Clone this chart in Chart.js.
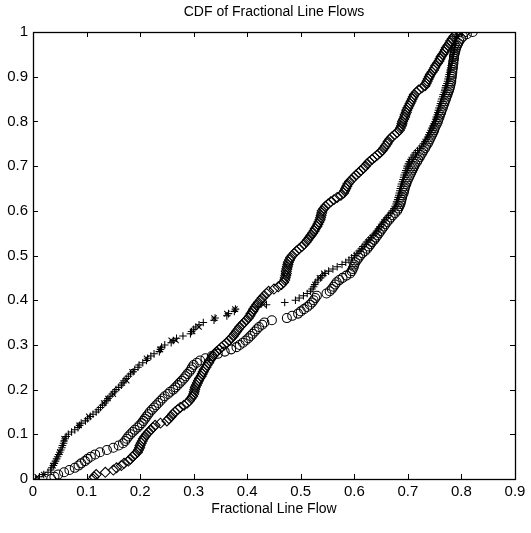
<!DOCTYPE html>
<html>
<head>
<meta charset="utf-8">
<script src="https://cdn.jsdelivr.net/npm/chart.js@4.4.1/dist/chart.umd.min.js"></script>
<style>
  html, body { margin: 0; padding: 0; background: #fff; }
  #wrap { width: 531px; height: 533px; }
</style>
</head>
<body>
<div id="wrap"><canvas id="cdfChart" width="531" height="533"></canvas></div>
<script>
// y levels of the CDF (shared by the three curves), step 0.005
const cdfLevels = [
  0.000, 0.005, 0.010, 0.015, 0.020, 0.025, 0.030, 0.035, 0.040, 0.045,
  0.050, 0.055, 0.060, 0.065, 0.070, 0.075, 0.080, 0.085, 0.090, 0.095,
  0.100, 0.105, 0.110, 0.115, 0.120, 0.125, 0.130, 0.135, 0.140, 0.145,
  0.150, 0.155, 0.160, 0.165, 0.170, 0.175, 0.180, 0.185, 0.190, 0.195,
  0.200, 0.205, 0.210, 0.215, 0.220, 0.225, 0.230, 0.235, 0.240, 0.245,
  0.250, 0.255, 0.260, 0.265, 0.270, 0.275, 0.280, 0.285, 0.290, 0.295,
  0.300, 0.305, 0.310, 0.315, 0.320, 0.325, 0.330, 0.335, 0.340, 0.345,
  0.350, 0.355, 0.360, 0.365, 0.370, 0.375, 0.380, 0.385, 0.390, 0.395,
  0.400, 0.405, 0.410, 0.415, 0.420, 0.425, 0.430, 0.435, 0.440, 0.445,
  0.450, 0.455, 0.460, 0.465, 0.470, 0.475, 0.480, 0.485, 0.490, 0.495,
  0.500, 0.505, 0.510, 0.515, 0.520, 0.525, 0.530, 0.535, 0.540, 0.545,
  0.550, 0.555, 0.560, 0.565, 0.570, 0.575, 0.580, 0.585, 0.590, 0.595,
  0.600, 0.605, 0.610, 0.615, 0.620, 0.625, 0.630, 0.635, 0.640, 0.645,
  0.650, 0.655, 0.660, 0.665, 0.670, 0.675, 0.680, 0.685, 0.690, 0.695,
  0.700, 0.705, 0.710, 0.715, 0.720, 0.725, 0.730, 0.735, 0.740, 0.745,
  0.750, 0.755, 0.760, 0.765, 0.770, 0.775, 0.780, 0.785, 0.790, 0.795,
  0.800, 0.805, 0.810, 0.815, 0.820, 0.825, 0.830, 0.835, 0.840, 0.845,
  0.850, 0.855, 0.860, 0.865, 0.870, 0.875, 0.880, 0.885, 0.890, 0.895,
  0.900, 0.905, 0.910, 0.915, 0.920, 0.925, 0.930, 0.935, 0.940, 0.945,
  0.950, 0.955, 0.960, 0.965, 0.970, 0.975, 0.980, 0.985, 0.990, 0.995,
  1.000
];

// '+' curve : line flow at each level
const plusFlow = [
  0.005, 0.012, 0.020, 0.028, 0.033, 0.035, 0.038, 0.040, 0.042, 0.044,
  0.046, 0.048, 0.050, 0.052, 0.054, 0.055, 0.057, 0.058, 0.060, 0.062,
  0.066, 0.072, 0.078, 0.084, 0.087, 0.090, 0.098, 0.102, 0.107, 0.112,
  0.118, 0.122, 0.126, 0.130, 0.134, 0.137, 0.140, 0.144, 0.148, 0.152,
  0.155, 0.160, 0.165, 0.168, 0.170, 0.174, 0.178, 0.182, 0.187, 0.190,
  0.196, 0.198, 0.205, 0.212, 0.214, 0.220, 0.226, 0.236, 0.238, 0.240,
  0.246, 0.258, 0.262, 0.268, 0.280, 0.294, 0.296, 0.300, 0.304, 0.310,
  0.318, 0.338, 0.340, 0.362, 0.365, 0.376, 0.378, 0.420, 0.436, 0.470,
  0.490, 0.497, 0.505, 0.512, 0.518, 0.521, 0.524, 0.526, 0.528, 0.532,
  0.537, 0.540, 0.545, 0.552, 0.560, 0.568, 0.577, 0.584, 0.590, 0.595,
  0.600, 0.605, 0.609, 0.613, 0.616, 0.620, 0.623, 0.627, 0.631, 0.635,
  0.639, 0.642, 0.645, 0.648, 0.651, 0.654, 0.657, 0.661, 0.664, 0.668,
  0.671, 0.674, 0.676, 0.678, 0.679, 0.681, 0.682, 0.683, 0.684, 0.685,
  0.686, 0.687, 0.688, 0.690, 0.691, 0.692, 0.693, 0.695, 0.696, 0.698,
  0.699, 0.701, 0.703, 0.706, 0.708, 0.711, 0.714, 0.718, 0.722, 0.726,
  0.729, 0.732, 0.734, 0.737, 0.739, 0.741, 0.743, 0.745, 0.747, 0.749,
  0.751, 0.752, 0.753, 0.755, 0.756, 0.757, 0.758, 0.760, 0.761, 0.762,
  0.763, 0.765, 0.766, 0.768, 0.769, 0.770, 0.771, 0.773, 0.774, 0.775,
  0.776, 0.777, 0.778, 0.779, 0.780, 0.781, 0.782, 0.783, 0.784, 0.784,
  0.785, 0.786, 0.787, 0.787, 0.788, 0.789, 0.789, 0.790, 0.790, 0.791,
  0.792
];

// 'o' curve
const circleFlow = [
  0.034, 0.040, 0.047, 0.058, 0.068, 0.078, 0.085, 0.090, 0.097, 0.102,
  0.108, 0.116, 0.125, 0.138, 0.150, 0.160, 0.168, 0.172, 0.175, 0.178,
  0.182, 0.186, 0.190, 0.195, 0.199, 0.203, 0.206, 0.209, 0.212, 0.215,
  0.218, 0.222, 0.226, 0.230, 0.234, 0.238, 0.242, 0.246, 0.252, 0.256,
  0.262, 0.266, 0.270, 0.274, 0.278, 0.282, 0.285, 0.288, 0.292, 0.295,
  0.297, 0.300, 0.306, 0.312, 0.322, 0.334, 0.345, 0.358, 0.370, 0.380,
  0.386, 0.392, 0.397, 0.402, 0.406, 0.410, 0.414, 0.418, 0.422, 0.428,
  0.432, 0.446, 0.474, 0.484, 0.495, 0.500, 0.506, 0.512, 0.517, 0.521,
  0.524, 0.527, 0.530, 0.548, 0.554, 0.558, 0.561, 0.564, 0.567, 0.572,
  0.578, 0.585, 0.592, 0.595, 0.597, 0.599, 0.600, 0.602, 0.605, 0.608,
  0.611, 0.615, 0.620, 0.624, 0.627, 0.630, 0.633, 0.637, 0.640, 0.643,
  0.646, 0.649, 0.652, 0.655, 0.658, 0.661, 0.665, 0.668, 0.672, 0.676,
  0.680, 0.682, 0.684, 0.686, 0.687, 0.688, 0.689, 0.690, 0.692, 0.693,
  0.694, 0.695, 0.697, 0.698, 0.700, 0.702, 0.704, 0.706, 0.708, 0.710,
  0.712, 0.714, 0.717, 0.719, 0.722, 0.724, 0.727, 0.729, 0.732, 0.734,
  0.737, 0.739, 0.741, 0.743, 0.745, 0.747, 0.749, 0.750, 0.752, 0.754,
  0.756, 0.757, 0.759, 0.760, 0.762, 0.763, 0.765, 0.766, 0.768, 0.769,
  0.771, 0.772, 0.774, 0.775, 0.777, 0.778, 0.779, 0.780, 0.781, 0.781,
  0.782, 0.782, 0.783, 0.783, 0.784, 0.784, 0.785, 0.785, 0.786, 0.786,
  0.787, 0.788, 0.789, 0.790, 0.792, 0.794, 0.796, 0.799, 0.803, 0.810,
  0.821
];

// diamond curve
const diamondFlow = [
  0.112, 0.114, 0.118, 0.135, 0.150, 0.156, 0.165, 0.170, 0.178, 0.182,
  0.186, 0.190, 0.195, 0.197, 0.199, 0.200, 0.202, 0.204, 0.206, 0.209,
  0.212, 0.216, 0.220, 0.224, 0.228, 0.238, 0.250, 0.254, 0.258, 0.261,
  0.265, 0.270, 0.275, 0.282, 0.288, 0.292, 0.295, 0.298, 0.300, 0.301,
  0.302, 0.303, 0.305, 0.307, 0.309, 0.311, 0.314, 0.316, 0.318, 0.320,
  0.323, 0.325, 0.328, 0.330, 0.333, 0.336, 0.339, 0.343, 0.348, 0.352,
  0.357, 0.362, 0.366, 0.370, 0.374, 0.377, 0.380, 0.383, 0.386, 0.390,
  0.394, 0.398, 0.402, 0.405, 0.407, 0.410, 0.412, 0.415, 0.418, 0.421,
  0.425, 0.428, 0.432, 0.436, 0.440, 0.450, 0.458, 0.464, 0.468, 0.470,
  0.471, 0.472, 0.473, 0.473, 0.474, 0.475, 0.476, 0.477, 0.479, 0.481,
  0.484, 0.488, 0.492, 0.497, 0.502, 0.506, 0.510, 0.513, 0.516, 0.519,
  0.522, 0.525, 0.527, 0.530, 0.532, 0.534, 0.536, 0.537, 0.538, 0.539,
  0.540, 0.543, 0.546, 0.551, 0.556, 0.562, 0.568, 0.575, 0.580, 0.582,
  0.584, 0.586, 0.588, 0.591, 0.595, 0.599, 0.603, 0.608, 0.612, 0.617,
  0.621, 0.624, 0.628, 0.633, 0.638, 0.643, 0.648, 0.652, 0.655, 0.658,
  0.661, 0.663, 0.666, 0.670, 0.675, 0.680, 0.684, 0.686, 0.688, 0.689,
  0.690, 0.692, 0.694, 0.695, 0.697, 0.698, 0.700, 0.702, 0.704, 0.706,
  0.708, 0.710, 0.712, 0.716, 0.720, 0.726, 0.732, 0.734, 0.736, 0.738,
  0.740, 0.742, 0.745, 0.748, 0.750, 0.752, 0.755, 0.758, 0.760, 0.762,
  0.765, 0.768, 0.770, 0.772, 0.775, 0.778, 0.780, 0.783, 0.786, 0.790,
  0.808
];

// 'x' marks seen among the '+' curve (lower part)
const crossFlow  = [0.008, 0.020, 0.037, 0.050, 0.058, 0.086, 0.104, 0.132, 0.140, 0.150,
                    0.175, 0.185, 0.212, 0.237, 0.258, 0.267, 0.298, 0.310, 0.338, 0.362,
                    0.377, 0.430, 0.535, 0.543];
const crossLevel = [0.005, 0.010, 0.030, 0.060, 0.090, 0.120, 0.140, 0.170, 0.180, 0.190,
                    0.220, 0.240, 0.270, 0.290, 0.310, 0.310, 0.330, 0.340, 0.360, 0.370,
                    0.380, 0.390, 0.450, 0.460];

const xTickLabels = ['0', '0.1', '0.2', '0.3', '0.4', '0.5', '0.6', '0.7', '0.8', '0.9'];
const yTickLabels = ['0', '0.1', '0.2', '0.3', '0.4', '0.5', '0.6', '0.7', '0.8', '0.9', '1'];

const chartTitle = 'CDF of Fractional Line Flows';
const FONT = '"Liberation Sans", Arial, Helvetica, sans-serif';

function toPoints(xs, ys) {
  return xs.map((v, i) => ({ x: v, y: ys[i] }));
}

// matlab風の枠・内向きの目盛り・軸の上のタイトル
const boxTicks = {
  id: 'boxTicks',
  afterDatasetsDraw(chart) {
    const { ctx, chartArea: { left, right, top, bottom }, scales: { x, y } } = chart;
    const len = 5;
    ctx.save();
    ctx.strokeStyle = '#000';
    ctx.lineWidth = 1;
    ctx.beginPath();
    x.ticks.forEach((t) => {
      const px = Math.round(x.getPixelForValue(t.value)) + 0.5;
      ctx.moveTo(px, bottom);
      ctx.lineTo(px, bottom - len);
      ctx.moveTo(px, top);
      ctx.lineTo(px, top + len);
    });
    y.ticks.forEach((t) => {
      const py = Math.round(y.getPixelForValue(t.value)) + 0.5;
      ctx.moveTo(left, py);
      ctx.lineTo(left + len, py);
      ctx.moveTo(right, py);
      ctx.lineTo(right - len, py);
    });
    ctx.stroke();
    ctx.lineWidth = 1.3;
    ctx.strokeRect(Math.round(left) + 0.5, Math.round(top) + 0.5,
      Math.round(right - left), Math.round(bottom - top));

    // タイトルは軸の中央に合わせる
    ctx.fillStyle = '#000';
    ctx.font = '14px ' + FONT;
    ctx.textAlign = 'center';
    ctx.textBaseline = 'middle';
    ctx.fillText(chartTitle, (left + right) / 2, 12);
    ctx.restore();
  },
};

const markerBase = {
  showLine: false,
  borderColor: '#000',
  backgroundColor: 'rgba(0,0,0,0)',
  borderWidth: 1.05,
  pointHoverRadius: 5,
};

new Chart(document.getElementById('cdfChart'), {
  type: 'scatter',
  data: {
    datasets: [
      Object.assign({}, markerBase, {
        label: 'diamond',
        data: toPoints(diamondFlow, cdfLevels),
        pointStyle: 'rectRot',
        pointRadius: 5,
      }),
      Object.assign({}, markerBase, {
        label: 'circle',
        data: toPoints(circleFlow, cdfLevels),
        pointStyle: 'circle',
        pointRadius: 4.5,
      }),
      Object.assign({}, markerBase, {
        label: 'plus',
        data: toPoints(plusFlow, cdfLevels),
        pointStyle: 'cross',
        pointRadius: 3.8,
      }),
      Object.assign({}, markerBase, {
        label: 'x',
        data: toPoints(crossFlow, crossLevel),
        pointStyle: 'crossRot',
        pointRadius: 3.8,
      }),
    ],
  },
  options: {
    responsive: false,
    animation: false,
    devicePixelRatio: 1,
    layout: { padding: { left: 0, right: 16, top: 32, bottom: 15 } },
    plugins: {
      legend: { display: false },
      tooltip: { enabled: false },
      title: { display: false },
    },
    scales: {
      x: {
        type: 'linear',
        min: 0,
        max: 0.9,
        grid: { display: false, drawTicks: false },
        border: { display: false },
        afterFit(scale) { scale.height = 39; },
        afterBuildTicks(scale) {
          scale.ticks = xTickLabels.map((s) => ({ value: parseFloat(s) }));
        },
        ticks: {
          color: '#000',
          padding: 4,
          maxRotation: 0,
          font: { family: FONT, size: 15 },
          callback: (v, i) => xTickLabels[i],
        },
        title: {
          display: true,
          text: 'Fractional Line Flow',
          color: '#000',
          font: { family: FONT, size: 14 },
          padding: { top: 0, bottom: 0 },
        },
      },
      y: {
        type: 'linear',
        min: 0,
        max: 1,
        grid: { display: false, drawTicks: false },
        border: { display: false },
        afterFit(scale) { scale.width = 33; },
        afterBuildTicks(scale) {
          scale.ticks = yTickLabels.map((s) => ({ value: parseFloat(s) }));
        },
        ticks: {
          color: '#000',
          padding: 5,
          font: { family: FONT, size: 15 },
          callback: (v, i) => yTickLabels[i],
        },
      },
    },
  },
  plugins: [boxTicks],
});
</script>
</body>
</html>
